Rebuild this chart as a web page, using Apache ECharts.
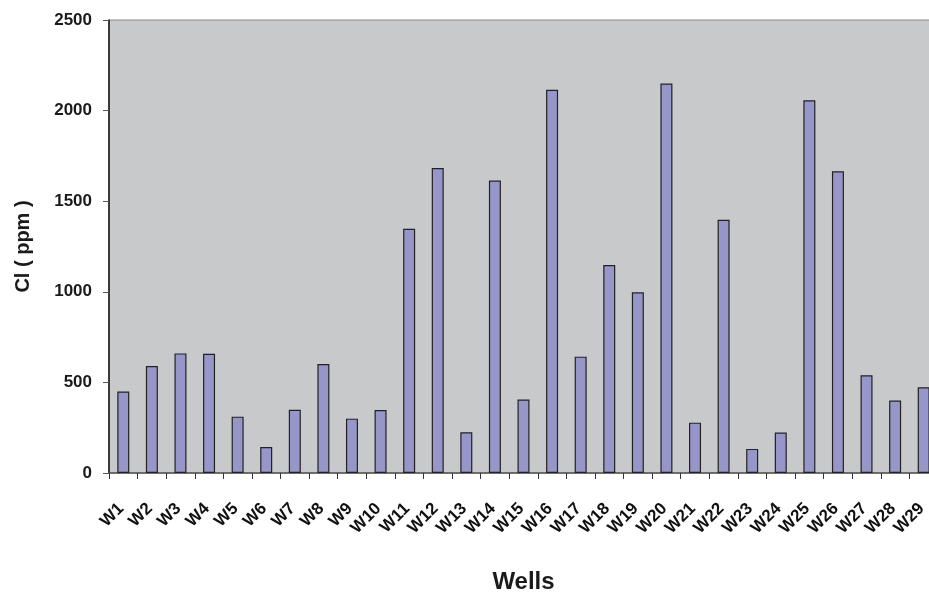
<!DOCTYPE html>
<html>
<head>
<meta charset="utf-8">
<script src="https://cdn.jsdelivr.net/npm/echarts@6/dist/echarts.min.js"></script>
<style>html,body{margin:0;padding:0;background:#fff;overflow:hidden}#c{width:938px;height:592px}</style>
</head>
<body>
<div id="c"></div>
<script>
var categories = ['W1','W2','W3','W4','W5','W6','W7','W8','W9','W10','W11','W12','W13','W14','W15','W16','W17','W18','W19','W20','W21','W22','W23','W24','W25','W26','W27','W28','W29'];
var clValues = [450,590,660,658,311,143,349,601,300,348,1348,1683,225,1614,405,2115,642,1148,997,2149,278,1398,133,223,2057,1665,539,400,473];
var yTicks = [0,500,1000,1500,2000,2500];

var chart = echarts.init(document.getElementById('c'));
chart.setOption({
  animation: false,
  grid: {left: 109, right: 0, top: 20, bottom: 119, outerBoundsMode: 'none', containLabel: false, show: true, backgroundColor: '#C8C9CB', borderColor: '#8a8a8a', borderWidth: 1},
  xAxis: {
    type: 'category', data: categories,
    name: 'Wells', nameLocation: 'middle', nameGap: 97,
    nameTextStyle: {fontFamily: 'Liberation Sans', fontWeight: 'bold', fontSize: 24, color: '#1a1a1a'},
    axisLine: {lineStyle: {color: '#555', width: 1.5}},
    axisTick: {show: true, alignWithLabel: false, length: 6, lineStyle: {color: '#333'}},
    axisLabel: {rotate: 45, interval: 0, fontFamily: 'Liberation Sans', fontWeight: 'bold', fontSize: 17, color: '#111', margin: 31, padding: [0, 3, 0, 0]}
  },
  yAxis: {
    type: 'value', min: yTicks[0], max: yTicks[yTicks.length-1], interval: 500,
    name: 'Cl ( ppm )', nameLocation: 'middle', nameGap: 76,
    nameTextStyle: {fontFamily: 'Liberation Sans', fontWeight: 'bold', fontSize: 20, color: '#1a1a1a'},
    axisLine: {show: true, lineStyle: {color: '#111', width: 1.5}},
    axisTick: {show: true, length: 6, lineStyle: {color: '#555'}},
    splitLine: {show: false},
    axisLabel: {fontFamily: 'Liberation Sans', fontWeight: 'bold', fontSize: 17, color: '#1a1a1a', margin: 17, formatter: function(v){return String(v);}}
  },
  series: [{
    type: 'bar', data: clValues, barWidth: 12,
    itemStyle: {color: '#9696C8', borderColor: '#222', borderWidth: 1.2}
  }]
});
</script>
</body>
</html>
